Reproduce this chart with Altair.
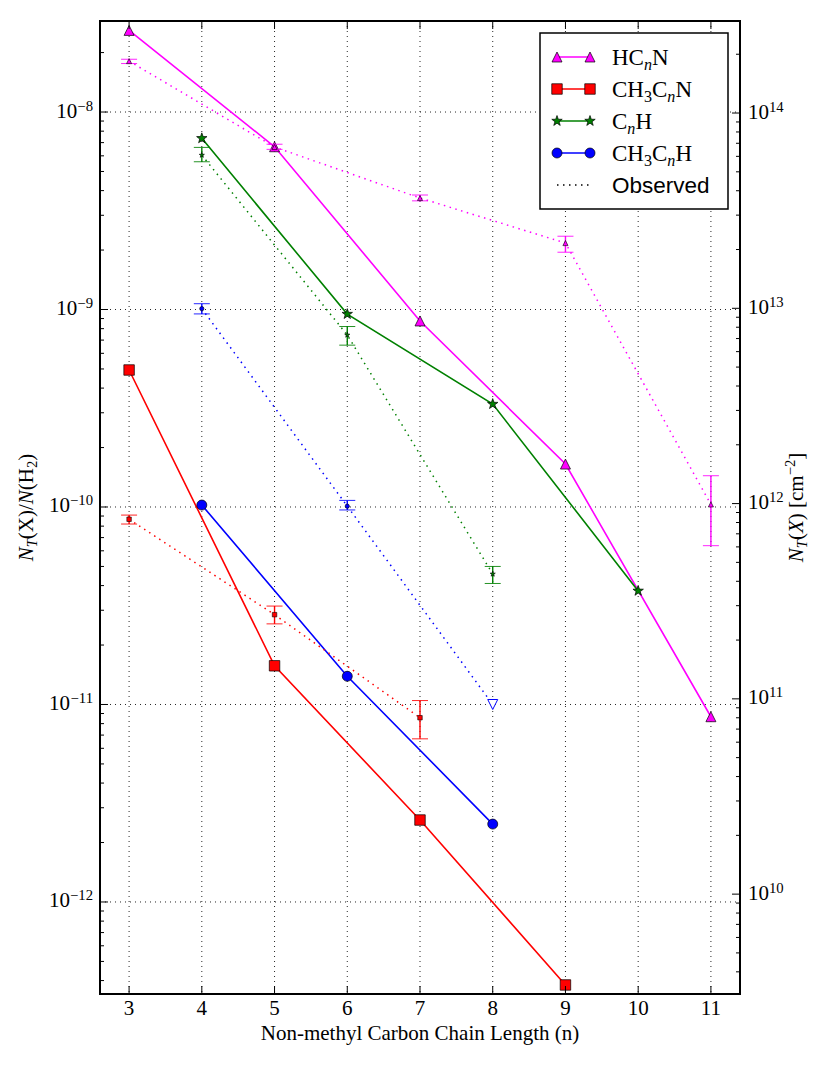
import math
import altair as alt
import pandas as pd

# ---------------- data ----------------
HC_N = [3, 5, 7, 9, 11]
HC_MODEL = [2.59e-8, 6.67e-9, 8.75e-10, 1.65e-10, 8.67e-12]
HC_OBS = [1.81e-8, 6.65e-9, 3.67e-9, 2.17e-9, 1.03e-10]
HC_OBS_HI = [1.85e-8, 6.87e-9, 3.80e-9, 2.35e-9, 1.44e-10]
HC_OBS_LO = [1.76e-8, 6.47e-9, 3.55e-9, 1.95e-9, 6.37e-11]

CH3CN_N = [3, 5, 7, 9]
CH3CN_MODEL = [4.94e-10, 1.57e-11, 2.60e-12, 3.80e-13]
CH3CN_OBS_N = [3, 5, 7]
CH3CN_OBS = [8.67e-11, 2.85e-11, 8.57e-12]
CH3CN_OBS_HI = [9.10e-11, 3.15e-11, 1.047e-11]
CH3CN_OBS_LO = [8.20e-11, 2.56e-11, 6.70e-12]

CNH_N = [4, 6, 8, 10]
CNH_MODEL = [7.36e-9, 9.48e-10, 3.32e-10, 3.76e-11]
CNH_OBS_N = [4, 6, 8]
CNH_OBS = [6.05e-9, 7.43e-10, 4.58e-11]
CNH_OBS_HI = [6.62e-9, 8.20e-10, 5.00e-11]
CNH_OBS_LO = [5.60e-9, 6.60e-10, 4.10e-11]

CH3CH_N = [4, 6, 8]
CH3CH_MODEL = [1.023e-10, 1.39e-11, 2.48e-12]
CH3CH_OBS_N = [4, 6]
CH3CH_OBS = [1.01e-9, 1.01e-10]
CH3CH_OBS_HI = [1.07e-9, 1.08e-10]
CH3CH_OBS_LO = [9.50e-10, 9.66e-11]
CH3CH_LIMIT_N = [8]
CH3CH_LIMIT = [1.0e-11]

X_TICKS = [3, 4, 5, 6, 7, 8, 9, 10, 11]
LEFT_EXP = [-12, -11, -10, -9, -8]
RIGHT_EXP = [10, 11, 12, 13, 14]
X_DOMAIN = [2.6, 11.4]
Y_DOMAIN = [3.42e-13, 2.89e-8]
YR_DOMAIN = [3.08e9, 2.96e14]

X_TITLE = "Non-methyl Carbon Chain Length (n)"
LEFT_TITLE = [("N", "it"), ("T", "subit"), ("(X)/", "rm"), ("N", "it"),
              ("(H", "rm"), ("2", "sub"), (")", "rm")]
RIGHT_TITLE = [("N", "it"), ("T", "subit"), ("(", "rm"), ("X", "it"), (")", "rm"),
               ("0.25", "gap"), ("[cm", "rm"), ("\u22122", "sup"), ("]", "rm")]
LEGEND_LABELS = [
    [("HC", "rm"), ("n", "subit"), ("N", "rm")],
    [("CH", "rm"), ("3", "sub"), ("C", "rm"), ("n", "subit"), ("N", "rm")],
    [("C", "rm"), ("n", "subit"), ("H", "rm")],
    [("CH", "rm"), ("3", "sub"), ("C", "rm"), ("n", "subit"), ("H", "rm")],
]
OBS_LABEL = "Observed"

# ---------------- styling ----------------
W, H = 640, 973
SERIF = "Liberation Serif"
SANS = "Liberation Sans"
FS = 21
EXP_FS = FS * 0.7
MAGENTA, RED, GREEN, BLUE = "#ff00ff", "#ff0000", "#008000", "#0000ff"

TRI_UP = "M0,-1L1,1L-1,1Z"
TRI_DN = "M0,1L1,-1L-1,-1Z"
_pts = []
for i in range(10):
    a = math.radians(-90 + 36 * i)
    r = 1.0 if i % 2 == 0 else 0.4
    _pts.append(f"{r * math.cos(a):.3f},{r * math.sin(a):.3f}")
STAR = "M" + "L".join(_pts) + "Z"

XS = alt.Scale(domain=X_DOMAIN, nice=False, zero=False)
YS = alt.Scale(type="log", domain=Y_DOMAIN, nice=False)
YR = alt.Scale(type="log", domain=YR_DOMAIN, nice=False)

ONE = pd.DataFrame({"k": [0]})

RM_W = {" ": 250, "(": 333, ")": 333, "/": 278, "[": 333, "]": 333, "\u2212": 564,
        "C": 667, "H": 722, "N": 722, "X": 722, "T": 611, "c": 444, "m": 778, "n": 500}
IT_W = {"N": 667, "T": 556, "X": 611, "n": 500}


def _w(s, italic):
    t = IT_W if italic else RM_W
    return sum(t.get(c, 500) for c in s) / 1000.0


def rich(pieces, x, y, size, angle=0, anchor="left", font=SERIF):
    items = []
    off = 0.0
    for txt, kind in pieces:
        if kind == "gap":
            off += float(txt) * size
            continue
        small = kind in ("sub", "subit", "sup")
        italic = kind in ("it", "subit")
        fs = size * 0.7 if small else size
        if kind in ("sub", "subit"):
            sh = 0.2 * size
        elif kind == "sup":
            sh = -0.38 * size
        else:
            sh = 0
        items.append((txt, off, sh, fs, italic))
        off += _w(txt, italic) * fs
    start = {"left": 0.0, "center": -off / 2, "right": -off}[anchor]
    out = []
    for txt, o, sh, fs, it in items:
        kw = dict(align="left", baseline="alphabetic", dx=start + o, dy=sh,
                  font=font, fontSize=fs, color="black")
        if angle:
            kw["angle"] = angle
        if it:
            kw["fontStyle"] = "italic"
        out.append(alt.Chart(ONE).mark_text(**kw).encode(
            x=alt.value(x), y=alt.value(y), text=alt.value(txt)))
    return out


def enc_xy(ch, yfield="v"):
    return ch.encode(x=alt.X("n:Q", scale=XS, axis=None),
                     y=alt.Y(f"{yfield}:Q", scale=YS, axis=None))


def model_layers(n, v, color, shape, size):
    df = pd.DataFrame({"n": n, "v": v})
    line = enc_xy(alt.Chart(df).mark_line(color=color, strokeWidth=1.6))
    pts = enc_xy(alt.Chart(df).mark_point(shape=shape, filled=True, fill=color,
                                          stroke="black", strokeWidth=0.7,
                                          size=size, opacity=1))
    return [line, pts]


def obs_layers(n, v, lo, hi, color, shape, size, extra_n=(), extra_v=()):
    df = pd.DataFrame({"n": n, "v": v, "lo": lo, "hi": hi})
    ln = pd.DataFrame({"n": list(n) + list(extra_n), "v": list(v) + list(extra_v)})
    line = enc_xy(alt.Chart(ln).mark_line(color=color, strokeWidth=1.5,
                                          strokeDash=[1.5, 4.5]))
    bar = alt.Chart(df).mark_rule(color=color, strokeWidth=1.4).encode(
        x=alt.X("n:Q", scale=XS, axis=None),
        y=alt.Y("lo:Q", scale=YS, axis=None), y2="hi:Q")
    caps = []
    for f in ("lo", "hi"):
        caps.append(enc_xy(alt.Chart(df).mark_point(
            shape="stroke", size=256, stroke=color, strokeWidth=1,
            opacity=0.85), f))
    pts = enc_xy(alt.Chart(df).mark_point(shape=shape, filled=True, fill=color,
                                          stroke="black", strokeWidth=0.6,
                                          size=size, opacity=1))
    return [line, bar] + caps + [pts]


# ---------------- grid, ticks, tick labels ----------------
ymajor = [10.0 ** e for e in LEFT_EXP]
xt = pd.DataFrame({"n": X_TICKS})
GRID = dict(color="black", strokeWidth=1, strokeDash=[1, 4], opacity=0.85)
grid = [
    alt.Chart(xt).mark_rule(**GRID).encode(
        x=alt.X("n:Q", scale=XS, axis=None), y=alt.value(0), y2=alt.value(H)),
    alt.Chart(pd.DataFrame({"v": ymajor})).mark_rule(**GRID).encode(
        y=alt.Y("v:Q", scale=YS, axis=None), x=alt.value(0), x2=alt.value(W)),
]


def yticks(vals, scale, x0, x1):
    return alt.Chart(pd.DataFrame({"v": vals})).mark_rule(
        color="black", strokeWidth=1).encode(
        y=alt.Y("v:Q", scale=scale, axis=None), x=alt.value(x0), x2=alt.value(x1))


def minors(lo, hi, e0, e1):
    return [k * 10.0 ** e for e in range(e0, e1) for k in range(2, 10)
            if lo <= k * 10.0 ** e <= hi]


left_ticks = [yticks(ymajor, YS, 0, 8),
              yticks(minors(Y_DOMAIN[0], Y_DOMAIN[1], -13, -7), YS, 0, 4)]
x_ticks = [alt.Chart(xt).mark_rule(color="black", strokeWidth=1).encode(
    x=alt.X("n:Q", scale=XS, axis=None), y=alt.value(a), y2=alt.value(b))
    for a, b in ((H, H - 8), (0, 8))]

x_labels = [
    alt.Chart(xt).mark_text(align="center", baseline="alphabetic", font=SERIF,
                            fontSize=FS, color="black").encode(
        x=alt.X("n:Q", scale=XS, axis=None), y=alt.value(H + 21), text="n:Q"),
    alt.Chart(ONE).mark_text(align="center", baseline="alphabetic", font=SERIF,
                             fontSize=FS, color="black").encode(
        x=alt.value(W / 2), y=alt.value(H + 46), text=alt.value(X_TITLE)),
]

# left tick labels 10^e
llab = alt.Chart(pd.DataFrame({"e": LEFT_EXP})).transform_calculate(
    v="pow(10, datum.e)", s="'\u2212' + toString(abs(datum.e))",
    d="length(toString(abs(datum.e)))")
left_labels = []
for d in (1, 2):
    expw = (0.564 + 0.5 * d) * EXP_FS
    sub = llab.transform_filter(f"datum.d == {d}")
    left_labels.append(sub.mark_text(align="right", baseline="alphabetic",
                                     dx=-7 - expw, dy=5.5, font=SERIF, fontSize=FS,
                                     color="black").encode(
        x=alt.value(0), y=alt.Y("v:Q", scale=YS, axis=None), text=alt.value("10")))
    left_labels.append(sub.mark_text(align="right", baseline="alphabetic",
                                     dx=-7, dy=-1.5, font=SERIF, fontSize=EXP_FS,
                                     color="black").encode(
        x=alt.value(0), y=alt.Y("v:Q", scale=YS, axis=None), text="s:N"))

# ---------------- series ----------------
series = []
series += model_layers(HC_N, HC_MODEL, MAGENTA, TRI_UP, 100)
series += model_layers(CH3CN_N, CH3CN_MODEL, RED, "square", 110)
series += model_layers(CNH_N, CNH_MODEL, GREEN, STAR, 120)
series += model_layers(CH3CH_N, CH3CH_MODEL, BLUE, "circle", 100)
series += obs_layers(HC_N, HC_OBS, HC_OBS_LO, HC_OBS_HI, MAGENTA, TRI_UP, 26)
series += obs_layers(CH3CN_OBS_N, CH3CN_OBS, CH3CN_OBS_LO, CH3CN_OBS_HI, RED, "square", 20)
series += obs_layers(CNH_OBS_N, CNH_OBS, CNH_OBS_LO, CNH_OBS_HI, GREEN, STAR, 30)
series += obs_layers(CH3CH_OBS_N, CH3CH_OBS, CH3CH_OBS_LO, CH3CH_OBS_HI, BLUE, "circle", 18,
                     CH3CH_LIMIT_N, CH3CH_LIMIT)
series.append(enc_xy(alt.Chart(pd.DataFrame({"n": CH3CH_LIMIT_N, "v": CH3CH_LIMIT}))
                     .mark_point(shape=TRI_DN, filled=False, fill="white", stroke=BLUE,
                                 strokeWidth=1, size=100, opacity=1)))

# ---------------- legend ----------------
LX0, LX1, LY0, LY1 = 440, 628, 12, 188
ROWS = [36, 68, 100, 132, 164]
legend = [alt.Chart(ONE).mark_rect(fill="white", stroke="black", strokeWidth=1.5).encode(
    x=alt.value(LX0), x2=alt.value(LX1), y=alt.value(LY0), y2=alt.value(LY1))]
leg_style = [(MAGENTA, TRI_UP, 100), (RED, "square", 110), (GREEN, STAR, 120),
             (BLUE, "circle", 100)]
for ry, (col, shp, sz), pieces in zip(ROWS, leg_style, LEGEND_LABELS):
    legend.append(alt.Chart(ONE).mark_rule(color=col, strokeWidth=1.6).encode(
        x=alt.value(457), x2=alt.value(490), y=alt.value(ry)))
    for mx in (457, 490):
        legend.append(alt.Chart(ONE).mark_point(
            shape=shp, filled=True, fill=col, stroke="black", strokeWidth=0.7,
            size=sz, opacity=1).encode(x=alt.value(mx), y=alt.value(ry)))
    legend += rich(pieces, 512, ry + 8, 23)
legend.append(alt.Chart(ONE).mark_rule(color="black", strokeWidth=1.5,
                                       strokeDash=[1.5, 4.5]).encode(
    x=alt.value(457), x2=alt.value(492), y=alt.value(ROWS[4])))
legend.append(alt.Chart(ONE).mark_text(align="left", baseline="alphabetic", font=SANS,
                                       fontSize=22.5, color="black").encode(
    x=alt.value(512), y=alt.value(ROWS[4] + 8), text=alt.value(OBS_LABEL)))

titles = rich(LEFT_TITLE, -67, H / 2, FS, angle=270, anchor="center")
titles += rich(RIGHT_TITLE, 703, H / 2, FS, angle=270, anchor="center")

left_group = alt.layer(*grid, *series, *legend, *left_ticks, *x_ticks,
                       *x_labels, *left_labels, *titles)

# ---------------- right axis (own scale) ----------------
rmajor = [10.0 ** e for e in RIGHT_EXP]
rlab = alt.Chart(pd.DataFrame({"e": RIGHT_EXP})).transform_calculate(
    v="pow(10, datum.e)", s="toString(datum.e)")
right_group = alt.layer(
    yticks(rmajor, YR, W, W - 8),
    yticks(minors(YR_DOMAIN[0], YR_DOMAIN[1], 9, 15), YR, W, W - 4),
    rlab.mark_text(align="left", baseline="alphabetic", dy=5.5, font=SERIF,
                   fontSize=FS, color="black").encode(
        x=alt.value(W + 8), y=alt.Y("v:Q", scale=YR, axis=None), text=alt.value("10")),
    rlab.mark_text(align="left", baseline="alphabetic", dy=-1.5, font=SERIF,
                   fontSize=EXP_FS, color="black").encode(
        x=alt.value(W + 8 + FS), y=alt.Y("v:Q", scale=YR, axis=None), text="s:N"),
)

chart = alt.layer(left_group, right_group).resolve_scale(y="independent").properties(
    width=W, height=H,
    padding={"left": 92, "top": 13, "right": 80, "bottom": 60},
    autosize=alt.AutoSizeParams(type="none"),
    background="white",
).configure_view(stroke="black", strokeWidth=2)

chart.save("out.html", embed_options={"renderer": "svg", "actions": False})
